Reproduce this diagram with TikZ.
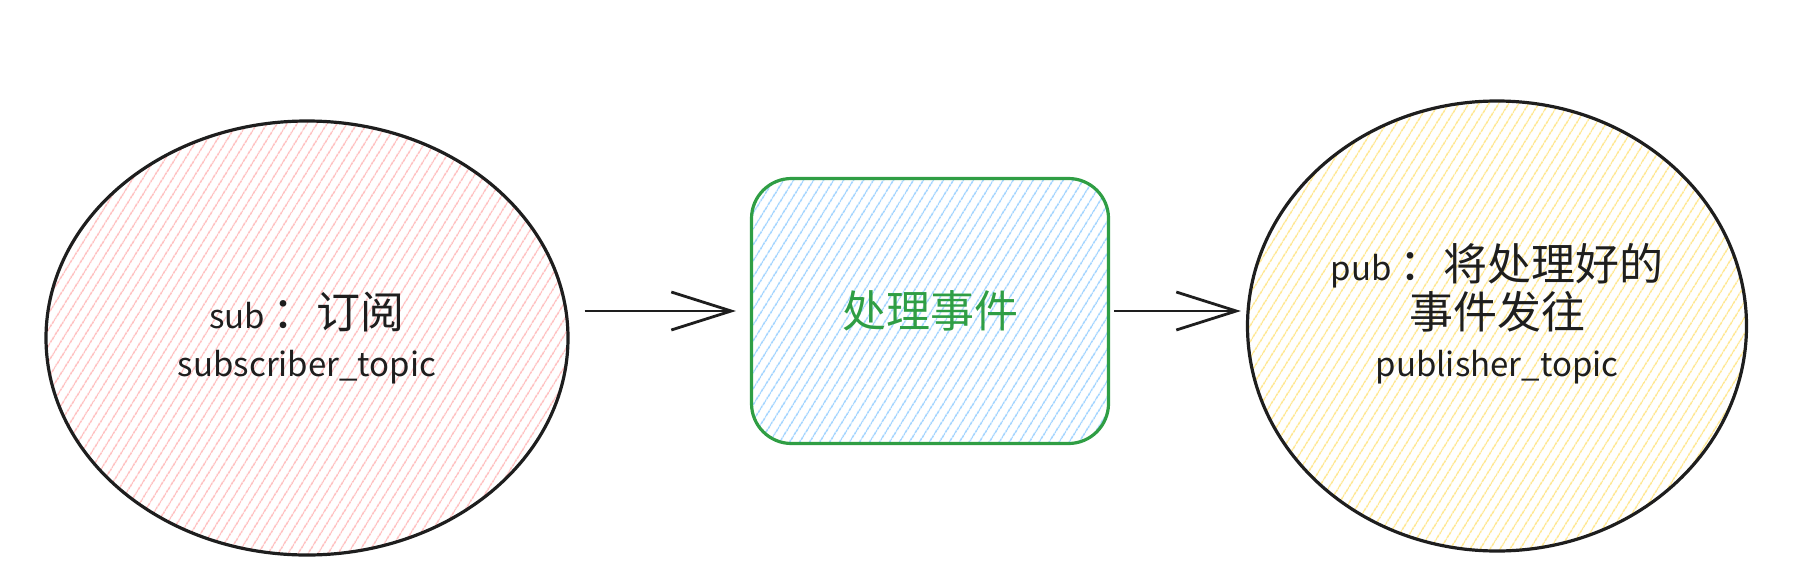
\documentclass[tikz,border=0pt]{standalone}
\usepackage{fontspec}
\setmainfont{Noto Sans CJK SC}
\usetikzlibrary{arrows.meta,patterns.meta,shapes.geometric}
\definecolor{ink}{HTML}{1E1E1E}
\definecolor{pinkf}{HTML}{FFB3B3}
\definecolor{bluef}{HTML}{8FCBFF}
\definecolor{yellf}{HTML}{FFE27A}
\definecolor{grn}{HTML}{2F9E44}
\newcommand\cjkbig{\fontsize{22}{24}\selectfont}
\newcommand\latn{\fontsize{16.5}{24}\selectfont}
\begin{document}
\begin{tikzpicture}[x=0.5pt,y=0.5pt,
  hatch/.style={pattern={Lines[angle=58,distance=4pt,line width=0.7pt]}},
  circ/.style={ellipse, draw=ink, line width=1.6pt, inner sep=0pt, hatch},
  proc/.style={rectangle, rounded corners=20pt, draw=grn, line width=1.6pt, hatch, pattern color=bluef, text=grn, minimum width=178.5pt, minimum height=132.5pt, font=\cjkbig},
  lbl/.style={align=center, text=ink, font=\cjkbig},
  conn/.style={draw=ink, line width=1.4pt, -{Straight Barb[length=30pt,width=19pt]}}
]
\useasboundingbox (0,0) rectangle (1808,586);
\node[circ, pattern color=pinkf, minimum width=261pt, minimum height=217pt] (L) at (307,248) {};
\node[proc] (B) at (930,275) {处理事件};
\node[circ, pattern color=yellf, minimum width=249.5pt, minimum height=225pt] (R) at (1497,260) {};
\node[lbl] (Lt) at (L.center) {{\latn sub }：订阅\\{\latn subscriber\_topic}};
\node[lbl] (Rt) at ([yshift=6pt]R.center) {{\latn pub }：将处理好的\\事件发往\\{\latn publisher\_topic}};
\draw[conn, shorten <=8pt, shorten >=7pt] (L.east |- B.west) -- (B.west);
\draw[conn, shorten <=2pt, shorten >=2.5pt] (B.east) -- (B.east -| R.west);
\end{tikzpicture}
\end{document}
